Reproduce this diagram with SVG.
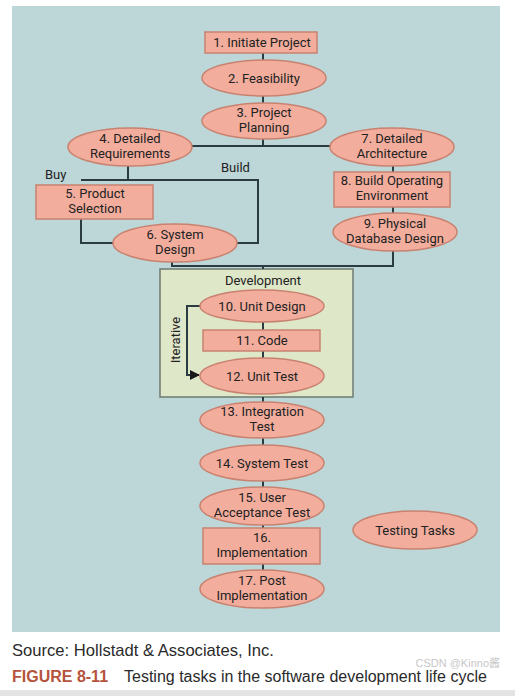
<svg xmlns="http://www.w3.org/2000/svg" width="515" height="696" viewBox="0 0 515 696">
<style>
.n{fill:#f2ad9d;stroke:#c98270;stroke-width:1.5}
.t{font-family:Roboto,"Open Sans",sans-serif;font-size:13px;fill:#222;text-anchor:middle}
.c{fill:none;stroke:#2b3b42;stroke-width:2}
.l{font-family:Roboto,"Open Sans",sans-serif;font-size:13px;fill:#222}
</style>
<defs>
<marker id="ah" viewBox="0 0 10 10" refX="9" refY="5" markerWidth="5" markerHeight="5" orient="auto"><path d="M0,0L10,5L0,10z" fill="#1a1a1a"/></marker>
</defs>
<rect x="0" y="0" width="515" height="696" fill="#ffffff"/>
<rect x="12" y="6" width="488" height="626" fill="#bdd6d7"/>
<rect x="0" y="690" width="515" height="6" fill="#e4e4e4"/>
<g id="development">
<rect x="160" y="269" width="193" height="128" fill="#dfe7c9" stroke="#6d7a70" stroke-width="1.5"/>
<text class="t" x="263" y="285">Development</text>
<text class="t" transform="translate(180,340) rotate(-90)">Iterative</text>
</g>
<g id="connectors">
<path class="c" d="M263,53V60"/>
<path class="c" d="M263,96V103"/>
<path class="c" d="M263,139V146M192,146H330"/>
<path class="c" d="M128,166V180M81,180H258V243H237"/>
<path class="c" d="M81,219V243H113"/>
<path class="c" d="M393,165V172"/>
<path class="c" d="M393,207V213"/>
<path class="c" d="M393,250V266H172V262"/>
<path class="c" d="M263,266V269"/>
<path class="c" d="M263,322V330M263,351V358"/>
<path class="c" d="M200,306H187V375H199" marker-end="url(#ah)" stroke="#1a1a1a"/>
<path class="c" d="M263,397V403M263,438V445M263,481V487M263,525V528M263,564V570"/>
</g>
<g id="n1"><rect class="n" x="205" y="32" width="112" height="21"/><text class="t" x="262" y="47">1. Initiate Project</text></g>
<g id="n2"><ellipse class="n" cx="264" cy="78" rx="62" ry="18"/><text class="t" x="264" y="82.5">2. Feasibility</text></g>
<g id="n3"><ellipse class="n" cx="264" cy="121" rx="62" ry="18"/><text class="t"><tspan x="264" y="116.5">3. Project</tspan><tspan x="264" dy="15.3">Planning</tspan></text></g>
<g id="n4"><ellipse class="n" cx="130" cy="147" rx="62" ry="19"/><text class="t"><tspan x="130" y="142.5">4. Detailed</tspan><tspan x="130" dy="15.3">Requirements</tspan></text></g>
<g id="n7"><ellipse class="n" cx="392" cy="147" rx="62" ry="19"/><text class="t"><tspan x="392" y="142.5">7. Detailed</tspan><tspan x="392" dy="15.3">Architecture</tspan></text></g>
<g id="lbl-buy"><text class="l" x="45" y="179">Buy</text></g>
<g id="lbl-build"><text class="l" x="221" y="172">Build</text></g>
<g id="n5"><rect class="n" x="36" y="185" width="117" height="34"/><text class="t"><tspan x="95" y="197.5">5. Product</tspan><tspan x="95" dy="15.3">Selection</tspan></text></g>
<g id="n6"><ellipse class="n" cx="175" cy="243" rx="62" ry="19"/><text class="t"><tspan x="175" y="238.5">6. System</tspan><tspan x="175" dy="15.3">Design</tspan></text></g>
<g id="n8"><rect class="n" x="334" y="172" width="116" height="35"/><text class="t"><tspan x="392" y="185">8. Build Operating</tspan><tspan x="392" dy="15.3">Environment</tspan></text></g>
<g id="n9"><ellipse class="n" cx="395" cy="232" rx="62" ry="19"/><text class="t"><tspan x="395" y="227.5">9. Physical</tspan><tspan x="395" dy="15.3">Database Design</tspan></text></g>
<g id="n10"><ellipse class="n" cx="262" cy="306" rx="62" ry="16"/><text class="t" x="262" y="310.5">10. Unit Design</text></g>
<g id="n11"><rect class="n" x="203" y="330" width="117" height="21"/><text class="t" x="262" y="345">11. Code</text></g>
<g id="n12"><ellipse class="n" cx="262" cy="376" rx="62" ry="18"/><text class="t" x="262" y="380.5">12. Unit Test</text></g>
<g id="n13"><ellipse class="n" cx="262" cy="420" rx="62" ry="18"/><text class="t"><tspan x="262" y="415.5">13. Integration</tspan><tspan x="262" dy="15.3">Test</tspan></text></g>
<g id="n14"><ellipse class="n" cx="262" cy="463" rx="62" ry="18"/><text class="t" x="262" y="467.5">14. System Test</text></g>
<g id="n15"><ellipse class="n" cx="262" cy="506" rx="62" ry="19"/><text class="t"><tspan x="262" y="501.5">15. User</tspan><tspan x="262" dy="15.3">Acceptance Test</tspan></text></g>
<g id="n16"><rect class="n" x="203" y="528" width="117" height="36"/><text class="t"><tspan x="262" y="541.5">16.</tspan><tspan x="262" dy="15.3">Implementation</tspan></text></g>
<g id="n17"><ellipse class="n" cx="262" cy="589" rx="62" ry="19"/><text class="t"><tspan x="262" y="584.5">17. Post</tspan><tspan x="262" dy="15.3">Implementation</tspan></text></g>
<g id="testing"><ellipse class="n" cx="415" cy="530" rx="62" ry="19"/><text class="t" x="415" y="534.5">Testing Tasks</text></g>
<text x="12" y="656" font-family="'Liberation Sans',Arial,sans-serif" font-size="16.6" fill="#2a2a2a">Source: Hollstadt &amp; Associates, Inc.</text>
<text x="12" y="682" font-family="'Liberation Sans',Arial,sans-serif" font-size="16" fill="#2a2a2a"><tspan font-weight="bold" fill="#b5533c">FIGURE 8-11</tspan><tspan x="124">Testing tasks in the software development life cycle</tspan></text>
<text x="500" y="667" text-anchor="end" font-family="'Liberation Sans','Noto Sans CJK SC',sans-serif" font-size="11" fill="#c8c8c8">CSDN @Kinno酱</text>
</svg>
